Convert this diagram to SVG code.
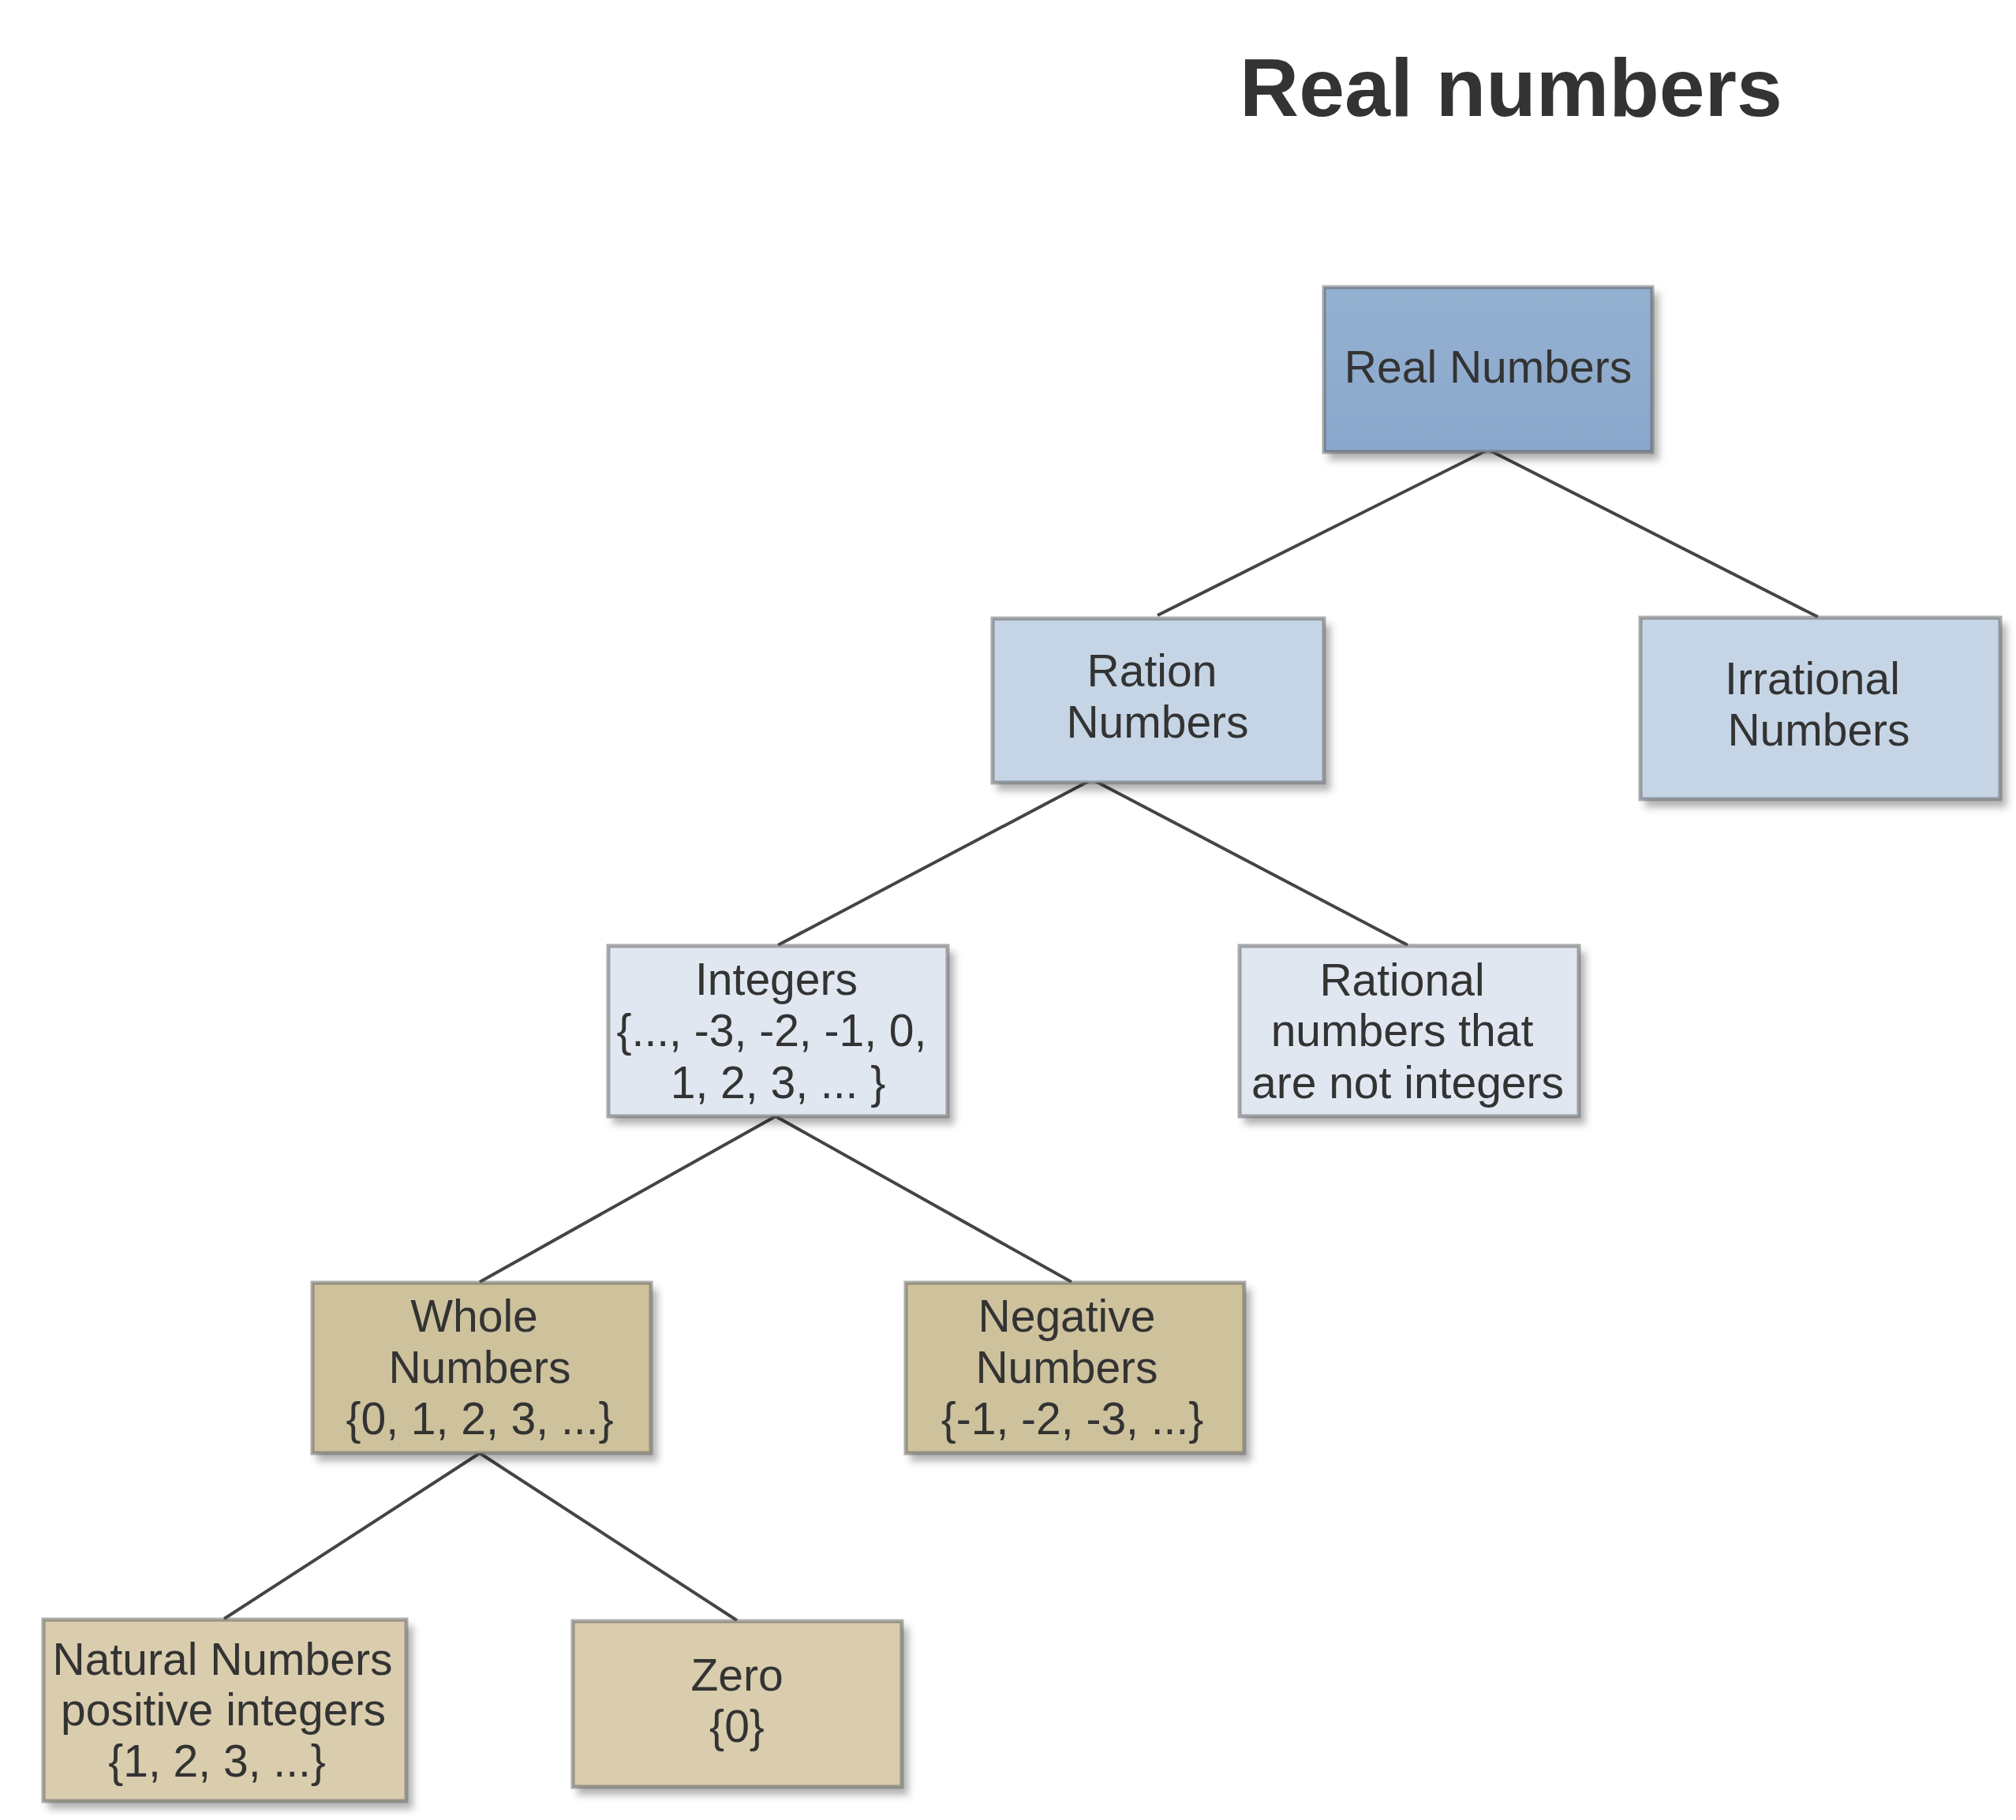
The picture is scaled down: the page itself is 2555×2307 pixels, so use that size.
<svg xmlns="http://www.w3.org/2000/svg" width="2555" height="2307" viewBox="0 0 2555 2307">
<defs>
<filter id="sh" x="-10%" y="-10%" width="125%" height="130%">
<feDropShadow dx="7" dy="9" stdDeviation="5" flood-color="#000" flood-opacity="0.3"/>
</filter>
<linearGradient id="g1" x1="0" y1="0" x2="0" y2="1">
<stop offset="0" stop-color="#95b1d1"/>
<stop offset="1" stop-color="#8aa6cb"/>
</linearGradient>
</defs>
<style>
.box{stroke:#5a5a5a;stroke-opacity:0.5;stroke-width:5;filter:url(#sh)}
.l1{fill:#c5d5e5}
.l2{fill:#e1e7f1}
.l3{fill:#cec29d}
.l4{fill:#d9cdae}
text{font-family:"Liberation Sans",Arial,sans-serif;font-size:57px;fill:#333;text-anchor:middle}
.title{font-size:104px;font-weight:bold}
.conn line{stroke:#444;stroke-width:4}
</style>
<rect width="2555" height="2307" fill="#fff"/>
<text class="title" x="1915" y="147">Real numbers</text>
<g class="conn" id="connectors">
<line x1="1886" y1="570" x2="1467" y2="780"/>
<line x1="1886" y1="570" x2="2304" y2="782"/>
<line x1="1384" y1="988" x2="986" y2="1198"/>
<line x1="1384" y1="988" x2="1784" y2="1198"/>
<line x1="983" y1="1415" x2="608" y2="1625"/>
<line x1="983" y1="1415" x2="1358" y2="1625"/>
<line x1="608" y1="1842" x2="284" y2="2052"/>
<line x1="608" y1="1842" x2="934" y2="2054"/>
</g>
<g id="real">
<rect class="box" x="1678" y="364" width="416" height="209" fill="url(#g1)"/>
<text x="1886" y="485">Real Numbers</text>
</g>
<g id="ration">
<rect class="box l1" x="1258" y="784" width="420" height="208"/>
<text x="1460" y="870">Ration</text>
<text x="1467" y="935">Numbers</text>
</g>
<g id="irrational">
<rect class="box l1" x="2079" y="783" width="456" height="230"/>
<text x="2297" y="880">Irrational</text>
<text x="2305" y="945">Numbers</text>
</g>
<g id="integers">
<rect class="box l2" x="771" y="1199" width="430" height="216"/>
<text x="984" y="1261">Integers</text>
<text x="978" y="1326">{..., -3, -2, -1, 0,</text>
<text x="986" y="1392">1, 2, 3, ... }</text>
</g>
<g id="rational">
<rect class="box l2" x="1571" y="1199" width="430" height="216"/>
<text x="1777" y="1262">Rational</text>
<text x="1777" y="1326">numbers that</text>
<text x="1784" y="1392">are not integers</text>
</g>
<g id="whole">
<rect class="box l3" x="396" y="1626" width="429" height="216"/>
<text x="601" y="1688">Whole</text>
<text x="608" y="1753">Numbers</text>
<text x="608" y="1818">{0, 1, 2, 3, ...}</text>
</g>
<g id="negative">
<rect class="box l3" x="1148" y="1626" width="429" height="216"/>
<text x="1352" y="1688">Negative</text>
<text x="1352" y="1753">Numbers</text>
<text x="1359" y="1818">{-1, -2, -3, ...}</text>
</g>
<g id="natural">
<rect class="box l4" x="55" y="2053" width="460" height="230"/>
<text x="282" y="2123">Natural Numbers</text>
<text x="283" y="2187">positive integers</text>
<text x="275" y="2252">{1, 2, 3, ...}</text>
</g>
<g id="zero">
<rect class="box l4" x="726" y="2055" width="417" height="210"/>
<text x="934" y="2143">Zero</text>
<text x="934" y="2208">{0}</text>
</g>
</svg>
